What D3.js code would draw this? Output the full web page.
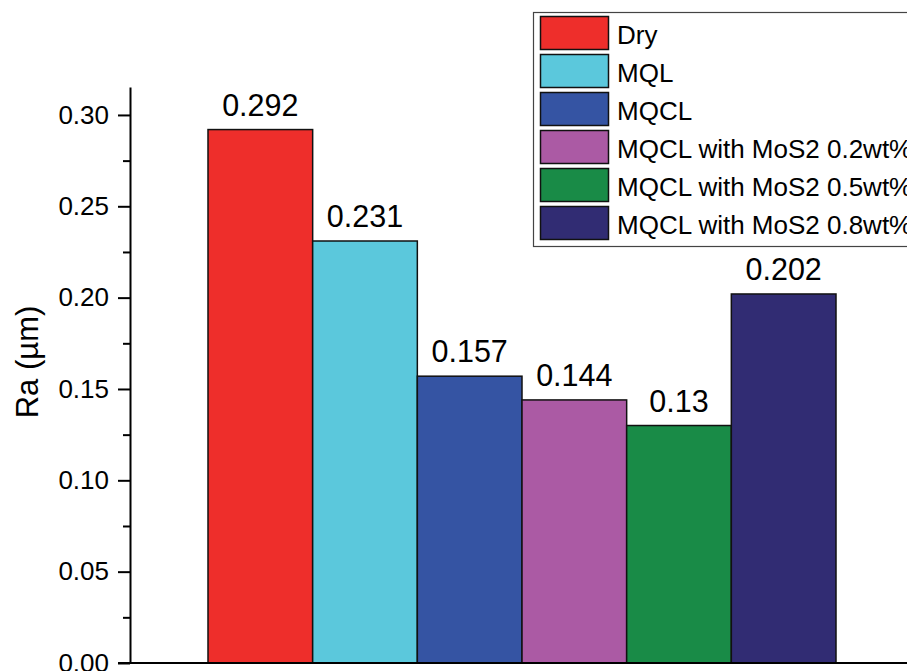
<!DOCTYPE html>
<html>
<head>
<meta charset="utf-8">
<style>
  body { margin: 0; background: #fff; }
  svg { display: block; font-family: "Liberation Sans", Arial, sans-serif; }
</style>
<script src="https://cdn.jsdelivr.net/npm/d3@7"></script>
</head>
<body>
<div id="chart"></div>
<script type="text/javascript">
// data
var categories = ["Dry", "MQL", "MQCL", "MQCL with MoS2 0.2wt%", "MQCL with MoS2 0.5wt%", "MQCL with MoS2 0.8wt%"];
var raValues = [0.292, 0.231, 0.157, 0.144, 0.13, 0.202];
var valueLabels = ["0.292", "0.231", "0.157", "0.144", "0.13", "0.202"];
var barColors = ["#ee2e2b", "#5bc8dc", "#3554a3", "#ab5aa4", "#198b47", "#312c73"];
var majorTicks = [0, 0.05, 0.10, 0.15, 0.20, 0.25, 0.30];
var minorTicks = [0.025, 0.075, 0.125, 0.175, 0.225, 0.275];

var w = 907,
    h = 671;

var svg = d3.select("#chart")
        .append("svg")
        .attr("width", w)
        .attr("height", h);

var x = d3.scaleBand()
    .domain(categories)
    .range([208, 836])
    .padding(0);

var y = d3.scaleLinear()
    .domain([0, 0.3153])
    .range([663, 87]);

// bars
svg.selectAll("rect.bar")
    .data(raValues)
    .enter()
    .append("rect")
    .attr("class", "bar")
    .attr("x", function(d, i) { return x(categories[i]); })
    .attr("y", function(d) { return y(d); })
    .attr("width", x.bandwidth())
    .attr("height", function(d) { return y(0) - y(d); })
    .attr("fill", function(d, i) { return barColors[i]; })
    .attr("stroke", "#111")
    .attr("stroke-width", 1.5);

// value labels
svg.selectAll("text.val")
    .data(raValues)
    .enter()
    .append("text")
    .attr("class", "val")
    .attr("x", function(d, i) { return x(categories[i]) + x.bandwidth() / 2; })
    .attr("y", function(d) { return y(d) - 14; })
    .attr("text-anchor", "middle")
    .attr("font-size", 30.5)
    .attr("fill", "#000")
    .text(function(d, i) { return valueLabels[i]; });

// y axis, minor ticks first
svg.append("g")
    .attr("transform", "translate(130,0)")
    .call(d3.axisLeft(y).tickValues(minorTicks).tickSize(7).tickSizeOuter(0).tickFormat(""))
    .call(function(g) {
      g.select(".domain").remove();
      g.selectAll("line").attr("stroke", "#000").attr("stroke-width", 2);
    });

svg.append("g")
    .attr("transform", "translate(130,0)")
    .call(d3.axisLeft(y).tickValues(majorTicks).tickSize(12).tickSizeOuter(0).tickPadding(9)
      .tickFormat(d3.format(".2f")))
    .call(function(g) {
      g.select(".domain").attr("stroke", "#000").attr("stroke-width", 2);
      g.selectAll("line").attr("stroke", "#000").attr("stroke-width", 2);
      g.selectAll("text")
        .attr("font-size", 26)
        .attr("font-family", "Liberation Sans, Arial, sans-serif")
        .attr("fill", "#000");
    });

// bottom axis line
svg.append("line")
    .attr("x1", 118)
    .attr("x2", w)
    .attr("y1", y(0))
    .attr("y2", y(0))
    .attr("stroke", "#000")
    .attr("stroke-width", 2);

// axis title
svg.append("text")
    .attr("transform", "translate(38,362) rotate(-90)")
    .attr("text-anchor", "middle")
    .attr("font-size", 31)
    .attr("fill", "#000")
    .text("Ra (\u00b5m)");

// legend
var legend = svg.append("g");

legend.append("rect")
    .attr("x", 533.5)
    .attr("y", 12.5)
    .attr("width", 400)
    .attr("height", 234)
    .attr("fill", "#fff")
    .attr("stroke", "#444")
    .attr("stroke-width", 1.2);

var rows = legend.selectAll("g.row")
    .data(categories)
    .enter()
    .append("g")
    .attr("class", "row")
    .attr("transform", function(d, i) { return "translate(0," + (16 + i * 38) + ")"; });

rows.append("rect")
    .attr("x", 540.5)
    .attr("y", 0.5)
    .attr("width", 68)
    .attr("height", 33)
    .attr("fill", function(d, i) { return barColors[i]; })
    .attr("stroke", "#111")
    .attr("stroke-width", 1.5);

rows.append("text")
    .attr("x", 617)
    .attr("y", 28)
    .attr("font-size", 26)
    .attr("fill", "#000")
    .text(function(d) { return d; });
</script>
</body>
</html>
